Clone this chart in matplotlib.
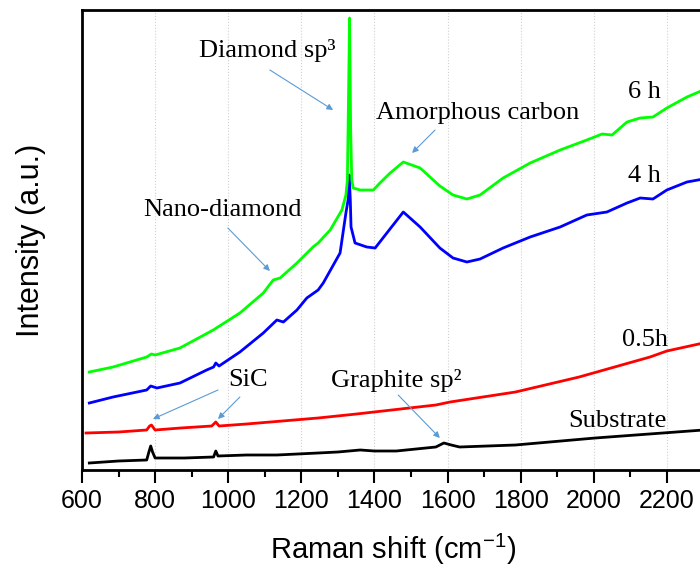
import matplotlib
matplotlib.use("Agg")
import matplotlib.pyplot as plt
from matplotlib.ticker import MultipleLocator

plt.rcParams['mathtext.fontset'] = 'custom'
plt.rcParams['mathtext.rm'] = 'Liberation Sans'
plt.rcParams['mathtext.it'] = 'Liberation Sans:italic'

# ---------------- data (arbitrary intensity units) ----------------
w_6h = [620, 685, 777, 790, 800, 868, 959, 1032, 1096, 1123, 1142, 1188, 1232, 1246,
        1279, 1311, 1322, 1326, 1329, 1332, 1335, 1338, 1342, 1361, 1397, 1415, 1443,
        1479, 1525, 1579, 1615, 1653, 1689, 1752, 1826, 1908, 1981, 2023, 2050, 2091,
        2127, 2162, 2200, 2255, 2300]
i_6h = [98, 103, 113, 116, 115, 122, 140, 157, 177, 190, 192, 207, 223, 227,
        240, 260, 275, 290, 370, 452, 340, 290, 282, 280, 280, 287, 297,
        308, 302, 284, 275, 271, 275, 292, 307, 320, 330, 336, 335, 348,
        352, 353, 362, 373, 380]

w_4h = [620, 685, 777, 788, 805, 868, 941, 960, 966, 975, 1032, 1096, 1133, 1151,
        1188, 1215, 1246, 1260, 1306, 1322, 1328, 1331, 1334, 1336, 1347, 1379, 1402,
        1434, 1479, 1525, 1579, 1615, 1653, 1689, 1752, 1826, 1908, 1981, 2036, 2091,
        2127, 2162, 2200, 2255, 2300]
i_4h = [67, 73, 80, 84, 82, 87, 100, 103, 107, 104, 118, 137, 150, 148,
        160, 172, 180, 187, 217, 257, 270, 295, 270, 243, 227, 223, 222,
        237, 258, 243, 222, 212, 208, 211, 222, 233, 243, 255, 258, 267,
        272, 271, 280, 288, 291]

w_05h = [611, 700, 777, 785, 790, 800, 870, 955, 966, 975, 1050, 1246, 1351, 1568,
         1607, 1786, 1960, 2154, 2200, 2300]
i_05h = [37, 38, 40, 44, 45, 40, 42, 44, 48, 44, 46, 52, 56, 65,
         68, 78, 93, 113, 119, 127]

w_sub = [620, 700, 777, 783, 788, 793, 800, 880, 960, 966, 972, 1050, 1133, 1246,
         1300, 1361, 1400, 1460, 1568, 1590, 1610, 1633, 1786, 2004, 2300]
i_sub = [7, 9, 10, 18, 24, 18, 12, 12, 13, 19, 14, 15, 15, 17,
         18, 20, 19, 19, 23, 27, 25, 23, 25, 32, 40]

x_ticks = [600, 800, 1000, 1200, 1400, 1600, 1800, 2000, 2200]

# ---------------- figure ----------------
fig = plt.figure(figsize=(7.0, 5.67), dpi=100)
ax = fig.add_axes([82 / 700, 97 / 567, 621.4 / 700, 460 / 567])

ax.plot(w_sub, i_sub, color='black', lw=2)
ax.plot(w_05h, i_05h, color='#ff0000', lw=2)
ax.plot(w_4h, i_4h, color='#0000ff', lw=2)
ax.plot(w_6h, i_6h, color='#00ff00', lw=2)

ax.set_xlim(600, 2300)
ax.set_ylim(0, 460)
ax.set_xticks(x_ticks)
ax.xaxis.set_minor_locator(MultipleLocator(100))
ax.set_yticks([])
ax.grid(axis='x', which='major', color='#d0d0d0', ls=':', lw=0.8)
ax.set_axisbelow(True)

for s in ax.spines.values():
    s.set_linewidth(2)
ax.tick_params(axis='x', which='major', direction='out', length=9, width=1.5,
               labelsize=18, pad=5)
ax.tick_params(axis='x', which='minor', direction='out', length=5, width=1.5)
for lab in ax.get_xticklabels():
    lab.set_fontfamily('Liberation Sans')

ax.set_xlabel('Raman shift (cm$^{-1}$)', fontsize=21, family='Liberation Sans', labelpad=13)
ax.set_ylabel('Intensity (a.u.)', fontsize=22, family='Liberation Sans', labelpad=26)

serif = 'Liberation Serif'
fs = 19
arrow_kw = dict(arrowstyle='-|>', color='#5b9bd5', lw=0.8, mutation_scale=9,
                shrinkA=0, shrinkB=0)

ax.text(1106, 420, 'Diamond sp³', fontsize=fs, family=serif, ha='center', va='center')
ax.annotate('', xy=(1287, 360), xytext=(1114, 400), arrowprops=arrow_kw)

ax.text(1683, 357, 'Amorphous carbon', fontsize=fs, family=serif, ha='center', va='center')
ax.annotate('', xy=(1503, 317), xytext=(1566, 340), arrowprops=arrow_kw)

ax.text(983, 260, 'Nano-diamond', fontsize=fs, family=serif, ha='center', va='center')
ax.annotate('', xy=(1114, 199), xytext=(999, 242), arrowprops=arrow_kw)

ax.text(1054, 90, 'SiC', fontsize=fs, family=serif, ha='center', va='center')
ax.annotate('', xy=(794, 51), xytext=(972, 80), arrowprops=arrow_kw)
ax.annotate('', xy=(972, 51), xytext=(1032, 73), arrowprops=arrow_kw)

ax.text(1459, 90, 'Graphite sp²', fontsize=fs, family=serif, ha='center', va='center')
ax.annotate('', xy=(1579, 32), xytext=(1465, 75), arrowprops=arrow_kw)

ax.text(2140, 378, '6 h', fontsize=fs, family=serif, ha='center', va='center')
ax.text(2140, 294, '4 h', fontsize=fs, family=serif, ha='center', va='center')
ax.text(2140, 130, '0.5h', fontsize=fs, family=serif, ha='center', va='center')
ax.text(2064, 49, 'Substrate', fontsize=fs, family=serif, ha='center', va='center')

fig.savefig('out.png', dpi=100)
